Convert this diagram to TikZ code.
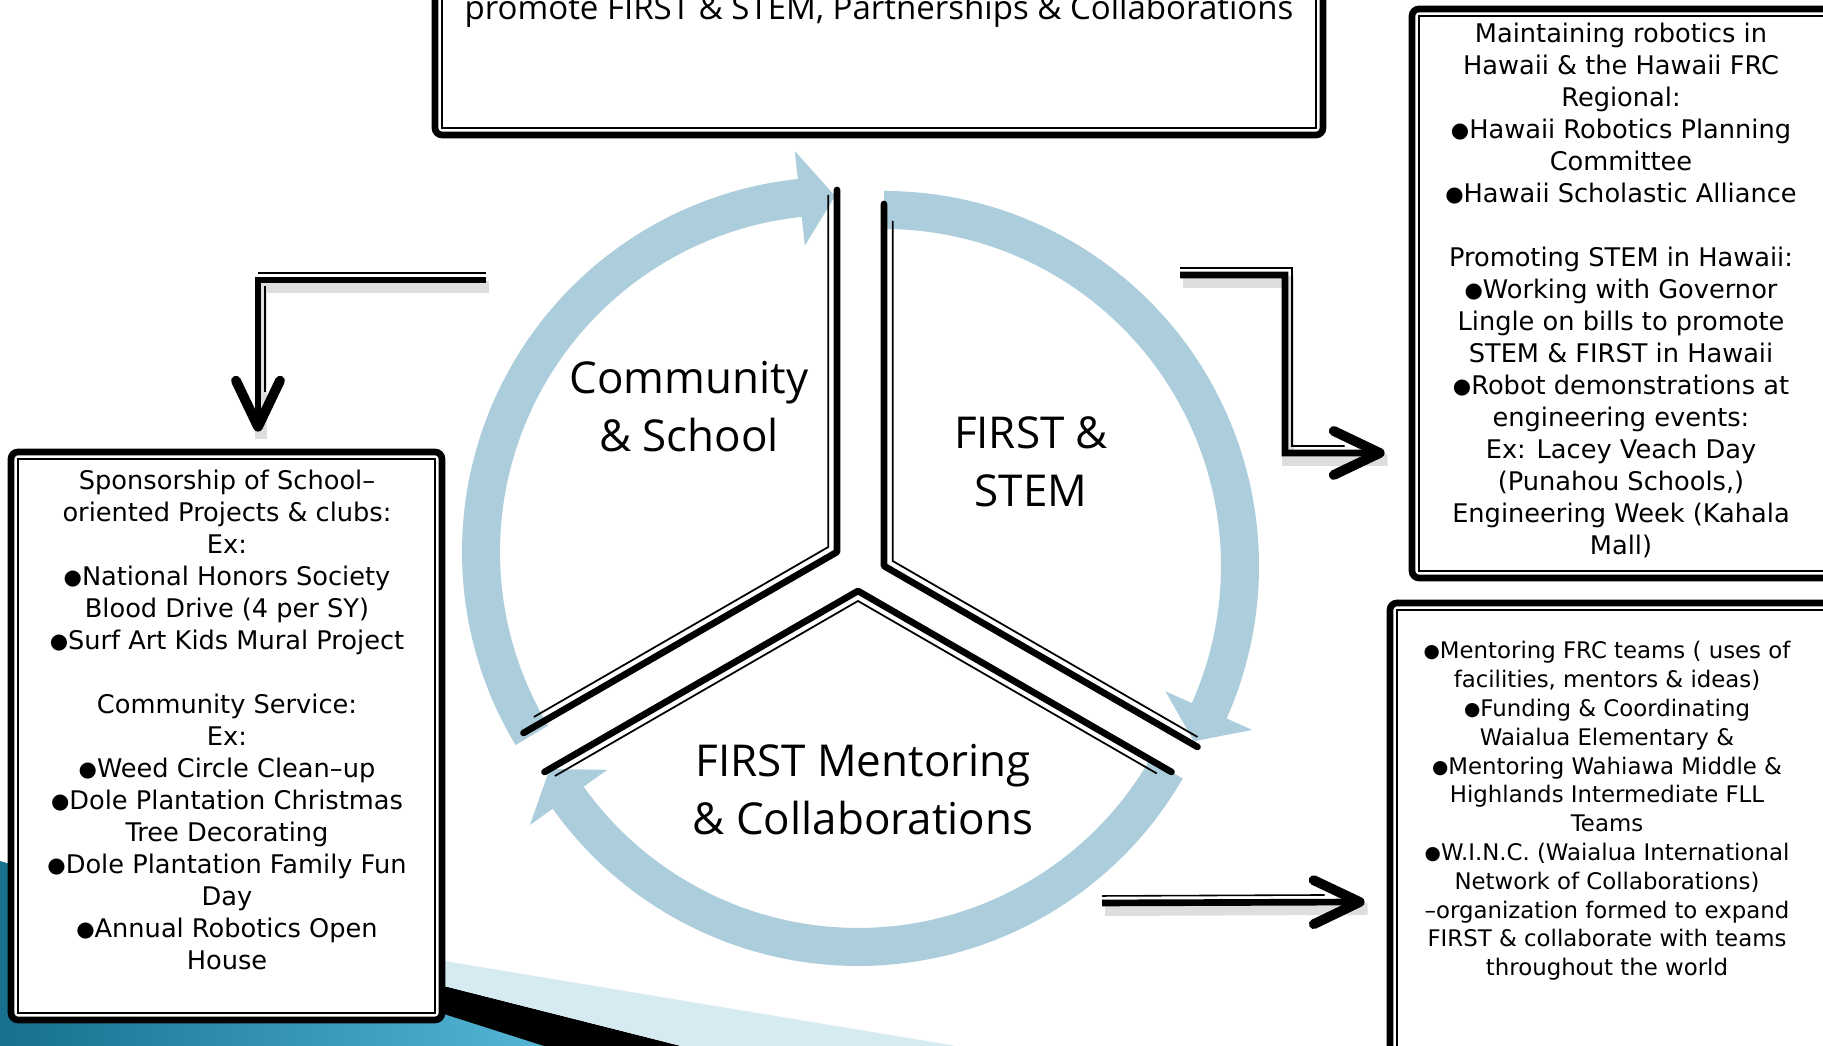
\documentclass[tikz,border=0pt]{standalone}
\usepackage{graphicx}
\usepackage{fontspec}
\setmainfont{DejaVu Sans}
\newfontfamily\osans{Open Sans}
\usetikzlibrary{calc,arrows.meta}
\definecolor{arcblue}{RGB}{172,206,220}
\definecolor{lband}{RGB}{214,234,242}
\definecolor{tealdark}{RGB}{22,112,142}
\definecolor{teallight}{RGB}{88,186,218}
\newcommand\bul{\raisebox{0.04em}{\scalebox{0.82}{●}}}
\begin{document}
\begin{tikzpicture}[
  frame/.style={draw=black, line width=1.9pt, rounded corners=2pt, fill=white, inner sep=0pt},
  innerframe/.style={draw=black, line width=0.5pt},
  boxtext/.style={align=center, font=\fontsize{7.3}{9.1}\selectfont, inner sep=0pt},
  smalltext/.style={align=center, font=\fontsize{6.5}{8.2}\selectfont, inner sep=0pt},
  cyclelabel/.style={align=center, font=\osans\fontsize{12.5}{16.5}\selectfont, inner sep=0pt},
  wedgeedge/.style={line width=1.9pt, line cap=round, line join=round},
  wedgethin/.style={line width=0.5pt},
  conn/.style={line width=1.9pt},
  connthin/.style={line width=0.45pt},
  connshadow/.style={line width=3.4pt, draw=black, opacity=0.13},
  tiparrow/.style={-{Straight Barb[length=4.6mm,width=4.4mm,line width=2.8pt,round]}}
]
\useasboundingbox (0,0) rectangle (18.23,10.46);
\fill[white] (0,0) rectangle (18.23,10.46);

% background decoration
\shade[left color=tealdark, right color=teallight] (0,1.85) .. controls (1.8,1.3) and (4,0.45) .. (5.8,0) -- (0,0) -- cycle;
\fill[black] (3,0.964) -- (6.81,0) -- (5.44,0) -- (3,0.78) -- cycle;
\fill[lband] (3,1.09) -- (9.56,0) -- (6.81,0) -- (3,0.964) -- cycle;

% frames
\node[frame, minimum width=4.31cm, minimum height=5.68cm] (lbox) at (2.265,3.10) {};
\draw[innerframe] ($(lbox.north west)+(0.10,-0.10)$) rectangle ($(lbox.south east)+(-0.10,0.10)$);
\node[frame, minimum width=8.88cm, minimum height=1.78cm] (topbox) at (8.79,10.0) {};
\draw[innerframe] ($(topbox.north west)+(0.10,-0.10)$) rectangle ($(topbox.south east)+(-0.10,0.10)$);
\node[frame, minimum width=4.48cm, minimum height=5.69cm] (rtbox) at (16.36,7.525) {};
\draw[innerframe] ($(rtbox.north west)+(0.10,-0.10)$) rectangle ($(rtbox.south east)+(-0.10,0.10)$);
\node[frame, minimum width=4.70cm, minimum height=4.73cm] (rbbox) at (16.25,2.065) {};
\draw[innerframe] ($(rbbox.north west)+(0.10,-0.10)$) rectangle ($(rbbox.south east)+(-0.10,0.10)$);

% texts
\node[anchor=base, font=\osans\fontsize{9.4}{11}\selectfont, inner sep=0pt] (toptext) at (8.79,10.26) {promote FIRST \& STEM, Partnerships \& Collaborations};

\node[boxtext] (ltext) at (2.27,3.26) {Sponsorship of School–\\oriented Projects \& clubs:\\Ex:\\\bul National Honors Society\\Blood Drive (4 per SY)\\\bul Surf Art Kids Mural Project\\[9.1pt]Community Service:\\Ex:\\\bul Weed Circle Clean–up\\\bul Dole Plantation Christmas\\Tree Decorating\\\bul Dole Plantation Family Fun\\Day\\\bul Annual Robotics Open\\House};

\node[boxtext] (rttext) at (16.21,7.555) {Maintaining robotics in\\Hawaii \& the Hawaii FRC\\Regional:\\\bul Hawaii Robotics Planning\\Committee\\\bul Hawaii Scholastic Alliance\\[9.1pt]Promoting STEM in Hawaii:\\\bul Working with Governor\\Lingle on bills to promote\\STEM \& FIRST in Hawaii\\\bul Robot demonstrations at\\engineering events:\\Ex: Lacey Veach Day\\(Punahou Schools,)\\Engineering Week (Kahala\\Mall)};

\node[smalltext] (rbtext) at (16.07,2.35) {\bul Mentoring FRC teams ( uses of\\facilities, mentors \& ideas)\\\bul Funding \& Coordinating\\Waialua Elementary \&\\\bul Mentoring Wahiawa Middle \&\\Highlands Intermediate FLL\\Teams\\\bul W.I.N.C. (Waialua International\\Network of Collaborations)\\–organization formed to expand\\FIRST \& collaborate with teams\\throughout the world};

% cycle
\coordinate (V1) at (8.37,4.94);
\coordinate (V2) at (8.84,4.80);
\coordinate (V3) at (8.58,4.55);

\fill[arcblue] ($(V1)+(211:3.75)$) arc[start angle=211, end angle=96, radius=3.75cm]
  -- ($(V1)+(96:4.03)$) -- ($(V1)+(90.3:3.56)$) -- ($(V1)+(96:3.08)$) -- ($(V1)+(96:3.37)$)
  arc[start angle=96, end angle=211, radius=3.37cm] -- cycle;
\fill[arcblue] ($(V2)+(90:3.75)$) arc[start angle=90, end angle=-24, radius=3.75cm]
  -- ($(V2)+(-24:4.03)$) -- ($(V2)+(-29.5:3.56)$) -- ($(V2)+(-24:3.08)$) -- ($(V2)+(-24:3.37)$)
  arc[start angle=-24, end angle=90, radius=3.37cm] -- cycle;
\fill[arcblue] ($(V3)+(-30:3.75)$) arc[start angle=-30, end angle=-144.5, radius=3.75cm]
  -- ($(V3)+(-144.5:4.03)$) -- ($(V3)+(-150:3.56)$) -- ($(V3)+(-144.5:3.08)$) -- ($(V3)+(-144.5:3.37)$)
  arc[start angle=-144.5, end angle=-30, radius=3.37cm] -- cycle;

\draw[wedgeedge] ($(V1)+(90:3.62)$) -- (V1) -- ($(V1)+(210:3.62)$);
\coordinate (V1i) at ($(V1)+(150:0.10)$);
\draw[wedgethin] (V1i) ++(90:3.52) -- (V1i) -- ++(210:3.40);
\draw[wedgeedge] ($(V2)+(90:3.62)$) -- (V2) -- ($(V2)+(-30:3.62)$);
\coordinate (V2i) at ($(V2)+(30:0.10)$);
\draw[wedgethin] (V2i) ++(90:3.40) -- (V2i) -- ++(-30:3.52);
\draw[wedgeedge] ($(V3)+(210:3.62)$) -- (V3) -- ($(V3)+(-30:3.62)$);
\coordinate (V3i) at ($(V3)+(270:0.10)$);
\draw[wedgethin] (V3i) ++(210:3.50) -- (V3i) -- ++(-30:3.45);

\node[cyclelabel] (comm) at (6.89,6.39) {Community\\\& School};
\node[cyclelabel] (stem) at (10.31,5.84) {FIRST \&\\STEM};
\node[cyclelabel] (ment) at (8.63,2.56) {FIRST Mentoring\\\& Collaborations};

% connectors
\coordinate (a1s) at (4.86,7.66);
\coordinate (a1e) at ($(lbox.north)+(0.315,0.17)$);
\coordinate (a1c) at (a1s -| a1e);
\coordinate (a2s) at (11.80,7.71);
\coordinate (a2e) at ($(rtbox.west)+(-0.24,-1.595)$);
\coordinate (a2k) at (12.85,5.93);
\coordinate (a2c) at (a2s -| a2k);
\coordinate (a3s) at (11.02,1.43);
\coordinate (a3e) at ($(rbbox.west)+(-0.22,-0.625)$);

\begin{scope}[transform canvas={shift={(0.03,-0.07)}}]
\draw[connshadow] (a1s) -| (a1e);
\draw[connshadow] (a2s) -| (a2k) -- (a2e);
\draw[connshadow] (a3s) -- (a3e);
\end{scope}

\draw[conn, tiparrow] (a1s) -| (a1e);
\draw[connthin] ($(a1s)+(0,0.07)$) -- ($(a1c)+(0,0.07)$);
\draw[connthin] ($(a1c)+(0.07,-0.06)$) -- ($(a1e)+(0.07,0.4)$);

\draw[conn, tiparrow] (a2s) -| (a2k) -- (a2e);
\draw[connthin] ($(a2s)+(0,0.07)$) -- ($(a2c)+(0.07,0.07)$) -- ($(a2k)+(0.07,0.07)$) -- ($(a2e)+(-0.4,0.07)$);

\draw[conn, tiparrow] (a3s) -- (a3e);
\draw[connthin] ($(a3s)+(0,0.07)$) -- ($(a3e)+(-0.4,0.07)$);
\end{tikzpicture}
\end{document}
